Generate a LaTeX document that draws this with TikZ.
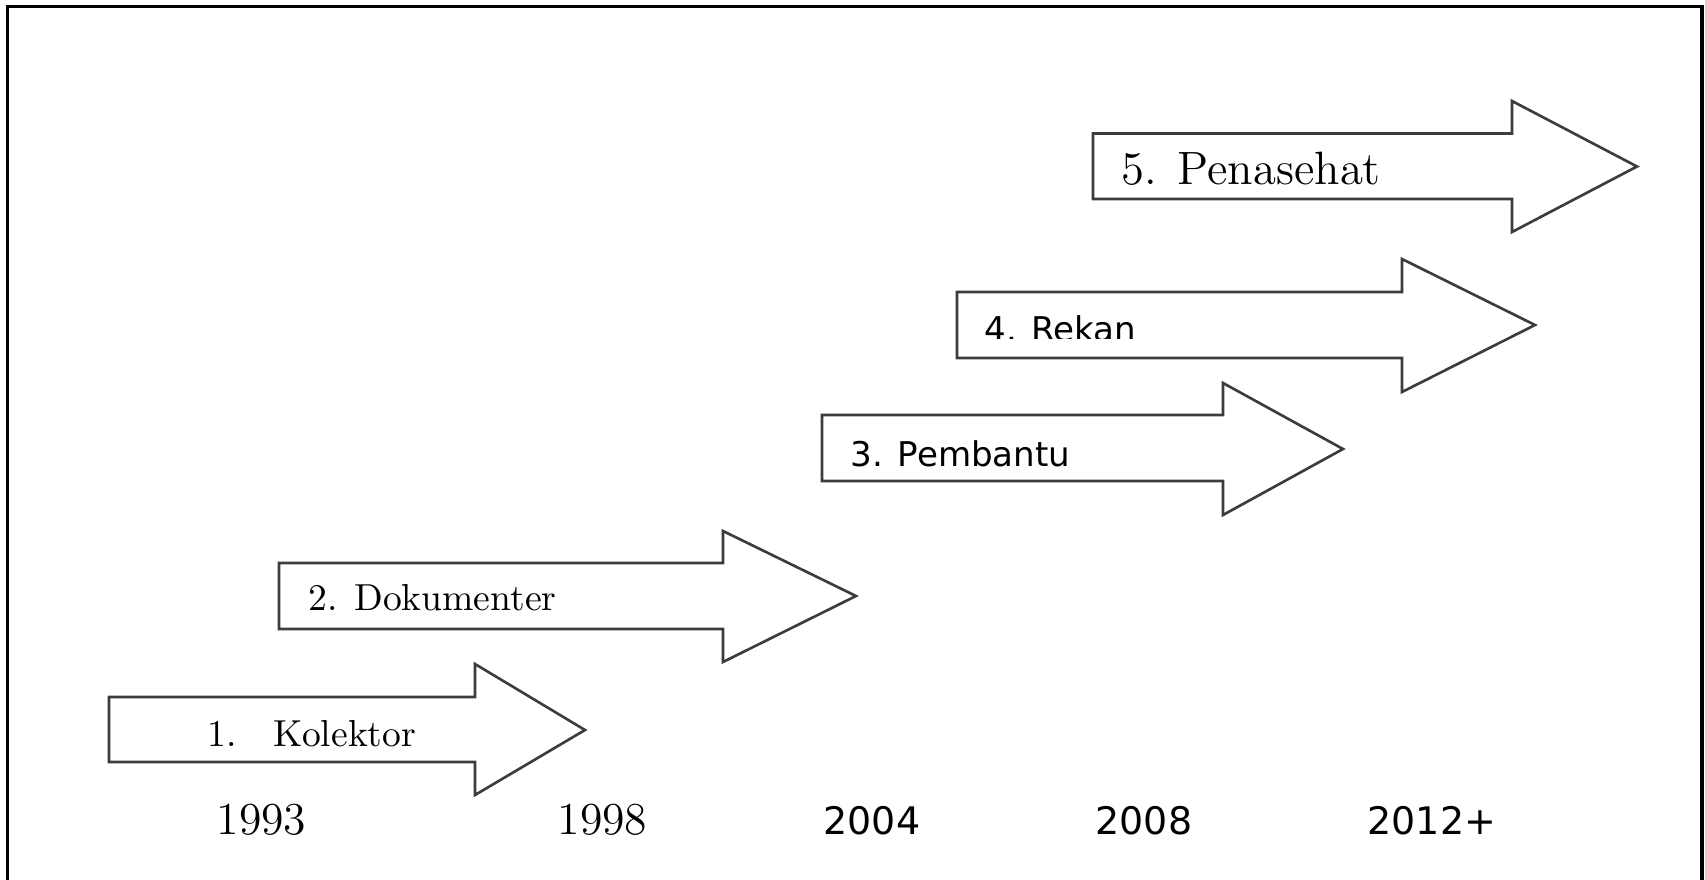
\documentclass[tikz,border=0pt]{standalone}
\usepackage{fontspec}
\newfontfamily\yearsans{DejaVu Sans}
\usetikzlibrary{positioning, calc}
\definecolor{arrowgray}{HTML}{3C3C3C}

\begin{document}
\begin{tikzpicture}[
		blockarrow/.style={draw=arrowgray, line width=0.75pt, line join=miter, fill=white},
		serifword/.style={anchor=base west, inner sep=0pt, font=\fontsize{10.7}{12}\selectfont},
		sansword/.style={anchor=base west, inner sep=0pt, font=\yearsans\fontsize{9.7}{12}\selectfont},
		serifyear/.style={anchor=base west, inner sep=0pt, font=\fontsize{13}{15}\selectfont},
		sansyear/.style={anchor=base west, inner sep=0pt, font=\yearsans\fontsize{10.8}{13}\selectfont}]
		\clip (0,0) rectangle (17.05,-8.80);
		\fill[white] (0,0) rectangle (17.05,-8.80);
		
		% frame, open at the bottom
		\draw[line width=1.1pt] (0.075,-9) -- (0.075,-0.065) -- (17.02,-0.065) -- (17.02,-9);
		
		% block arrows, left top corner of the body first
		\coordinate (kolektor) at (1.09,-6.97);
		\draw[blockarrow] (kolektor) -- +(3.66,0) -- +(3.66,.33) -- +(4.76,-.33) -- +(3.66,-.98) -- +(3.66,-.65) -- +(0,-.65) -- cycle;
		\coordinate (dokumenter) at (2.79,-5.63);
		\draw[blockarrow] (dokumenter) -- +(4.44,0) -- +(4.44,.32) -- +(5.77,-.33) -- +(4.44,-.99) -- +(4.44,-.66) -- +(0,-.66) -- cycle;
		\coordinate (pembantu) at (8.22,-4.15);
		\draw[blockarrow] (pembantu) -- +(4.01,0) -- +(4.01,.32) -- +(5.21,-.34) -- +(4.01,-1.0) -- +(4.01,-.66) -- +(0,-.66) -- cycle;
		\coordinate (rekan) at (9.57,-2.92);
		\draw[blockarrow] (rekan) -- +(4.45,0) -- +(4.45,.33) -- +(5.78,-.33) -- +(4.45,-1.0) -- +(4.45,-.66) -- +(0,-.66) -- cycle;
		\coordinate (penasehat) at (10.93,-1.335);
		\draw[blockarrow] (penasehat) -- +(4.19,0) -- +(4.19,.325) -- +(5.44,-.33) -- +(4.19,-.985) -- +(4.19,-.655) -- +(0,-.655) -- cycle;
		
		% labels
		\node[serifword] (kolektor label) at (2.07,-7.467) {1.\hspace{10.5pt}Kolektor};
		\node[serifword] (dokumenter label) at (3.077,-6.107) {2. Dokumenter};
		\node[sansword] (pembantu label) at (8.50,-4.667) {3. Pembantu};
		\begin{scope}
			\clip (9.6,-2.95) rectangle (14,-3.38);
			\node[sansword] (rekan label) at (9.84,-3.41) {4. Rekan};
		\end{scope}
		\node[serifword, font=\fontsize{13.3}{15}\selectfont] (penasehat label) at (11.21,-1.84) {5. Penasehat};
		
		% years
		\node[serifyear] (y1993) at (2.16,-8.34) {1993};
		\node[serifyear] (y1998) at (5.57,-8.34) {1998};
		\node[sansyear] (y2004) at (8.23,-8.34) {2004};
		\node[sansyear] (y2008) at (10.95,-8.34) {2008};
		\node[sansyear] (y2012) at (13.67,-8.34) {2012+};
		
		\end{tikzpicture}
\end{document}
